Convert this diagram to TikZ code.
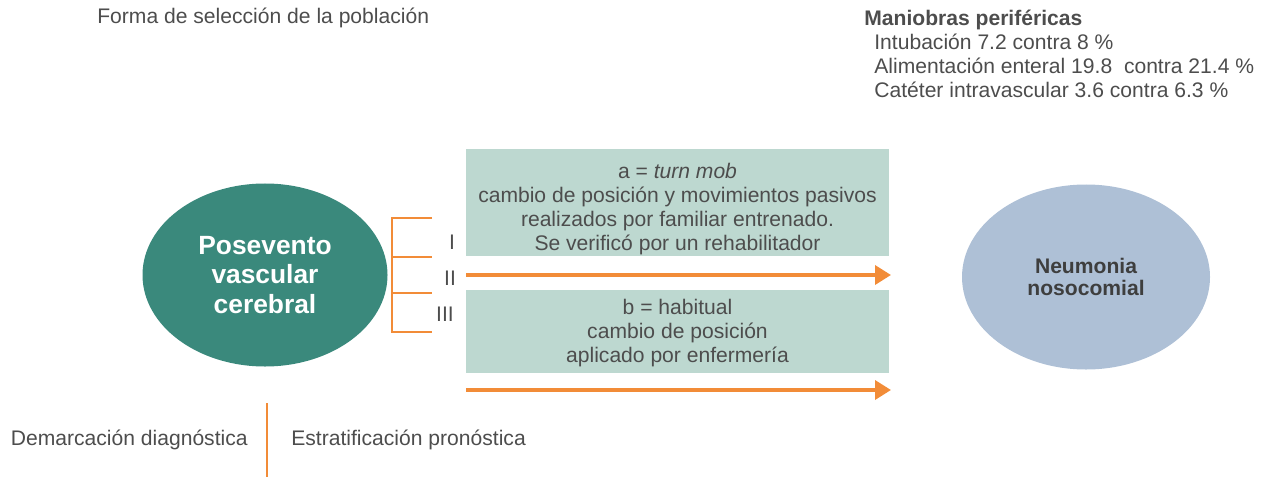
\documentclass[tikz,border=0pt]{standalone}
\usepackage{fontspec}
\setmainfont{Liberation Sans}
\usetikzlibrary{arrows.meta,positioning,shapes.geometric}

\definecolor{verde}{HTML}{3A897C}
\definecolor{verdeclaro}{HTML}{BDD8D0}
\definecolor{azul}{HTML}{AEC0D6}
\definecolor{naranja}{HTML}{F28C38}
\definecolor{gris}{HTML}{4D4D4D}

\begin{document}
\begin{tikzpicture}[x=0.2mm,y=-0.2mm,
    txt/.style={text=gris,font=\fontsize{12}{13.6}\selectfont,inner sep=0pt},
    posev/.style={ellipse,fill=verde,minimum width=49mm,minimum height=36.6mm,
        text=white,align=center,font=\fontsize{15}{17}\selectfont\bfseries},
    neum/.style={ellipse,fill=azul,minimum width=49.6mm,minimum height=37mm,
        text=gris!80!black,align=center,font=\fontsize{12}{13}\selectfont\bfseries},
    caja/.style={fill=verdeclaro,minimum width=84.6mm},
    cajatxt/.style={txt,align=center},
    flecha/.style={draw=naranja,line width=2pt,-{Triangle[length=3.2mm,width=3.8mm]}},
    llave/.style={draw=naranja,line width=1.2pt}]

    \useasboundingbox (0,0) rectangle (1262,477);

    % titulos
    \node[txt,anchor=west] (titulo) at (97,18) {Forma de selección de la población};
    \node[txt,anchor=north west,align=left] (maniobras) at (864,10)
        {\textbf{Maniobras periféricas}\\
         \hspace{2mm}Intubación 7.2 contra 8 \%\\
         \hspace{2mm}Alimentación enteral 19.8\ \ contra 21.4 \%\\
         \hspace{2mm}Catéter intravascular 3.6 contra 6.3 \%};

    % elipses
    \node[posev] (pve) at (265,275) {Posevento\\vascular\\cerebral};
    \node[neum] (nn) at (1086,277) {Neumonia\\nosocomial};

    % cajas
    \node[caja,minimum height=21.4mm] (a) at (677.5,202.5) {};
    \node[cajatxt] (atxt) at (677.5,209)
        {a = \textit{turn mob}\\cambio de posición y movimientos pasivos\\
         realizados por familiar entrenado.\\Se verificó por un rehabilitador};
    \node[caja,minimum height=16.6mm] (b) at (677.5,331.5) {};
    \node[cajatxt] (btxt) at (677.5,333)
        {b = habitual\\cambio de posición\\aplicado por enfermería};

    % flechas
    \coordinate (ii1) at (466,275);
    \coordinate (ii2) at (891,275);
    \coordinate (iv1) at (466,390);
    \coordinate (iv2) at (891,390);
    \draw[flecha] (ii1) -- (ii2);
    \draw[flecha] (iv1) -- (iv2);

    % llave
    \draw[llave] (432,218) -- (392,218) -- (392,332) -- (432,332);
    \draw[llave] (392,257) -- (432,257);
    \draw[llave] (392,293) -- (432,293);
    \node[txt] (g1) at (452,242) {I};
    \node[txt] (g2) at (450,278) {II};
    \node[txt] (g3) at (445,314) {III};

    % demarcacion
    \coordinate (d1) at (267,403);
    \coordinate (d2) at (267,477);
    \draw[llave] (d1) -- (d2);
    \node[txt,anchor=east] (dem) at (248,440) {Demarcación diagnóstica};
    \node[txt,anchor=west] (est) at (291,440) {Estratificación pronóstica};

\end{tikzpicture}
\end{document}
